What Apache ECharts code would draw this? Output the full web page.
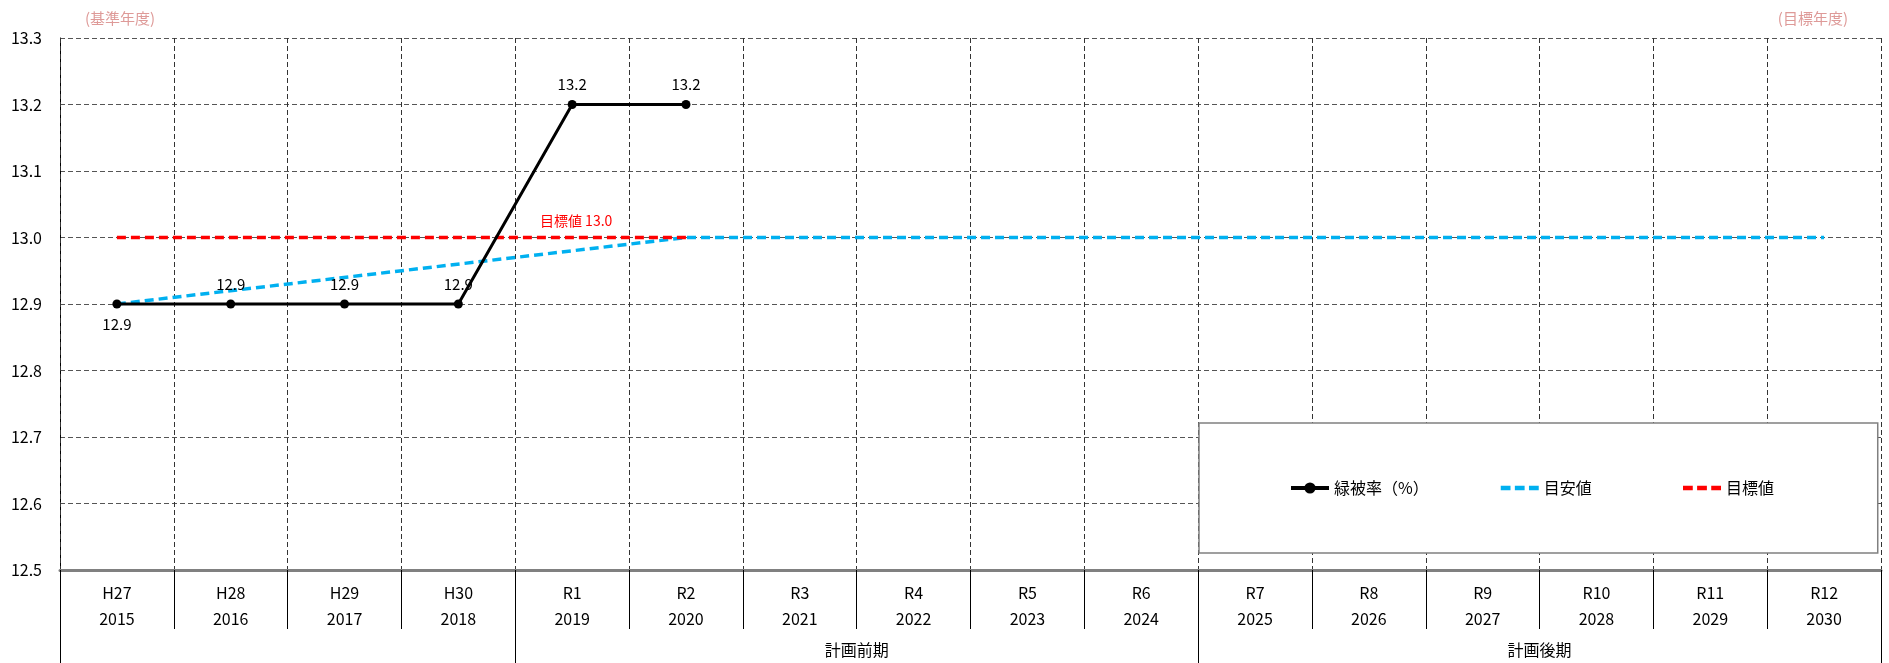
<!DOCTYPE html>
<html>
<head>
<meta charset="utf-8">
<script src="https://cdn.jsdelivr.net/npm/echarts@6/dist/echarts.min.js"></script>
<style>
html,body{margin:0;padding:0;background:#fff;}
#chart{width:1889px;height:663px;}
</style>
</head>
<body>
<div id="chart"></div>
<script>
// ---- data ----
const eraLabels = ['H27','H28','H29','H30','R1','R2','R3','R4','R5','R6','R7','R8','R9','R10','R11','R12'];
const yearLabels = ['2015','2016','2017','2018','2019','2020','2021','2022','2023','2024','2025','2026','2027','2028','2029','2030'];
const greenRate = [12.9,12.9,12.9,12.9,13.2,13.2,null,null,null,null,null,null,null,null,null,null];
const guideValue = [12.9,null,null,null,null,13.0,13.0,13.0,13.0,13.0,13.0,13.0,13.0,13.0,13.0,13.0];
const targetValue = [13.0,13.0,13.0,13.0,13.0,13.0,null,null,null,null,null,null,null,null,null,null];
const targetLabelIndex = 4;
const seriesNames = ['緑被率（%）','目安値','目標値'];
const periodNames = ['','計画前期','計画後期'];
const periodLengths = [4,6,6];
const yMin = 12.5, yMax = 13.3, yStep = 0.1;
const cornerLabels = ['(基準年度)','(目標年度)'];

// ---- derived ----
const boundaries = [0];
const centers = [];
periodLengths.forEach(function(n){
  const s = boundaries[boundaries.length-1];
  centers.push(s + n/2);
  boundaries.push(s + n);
});
const FONT = "'Noto Sans CJK JP', 'Noto Sans', sans-serif";
const DASH_ICON = 'path://M0,0h9v4H0z M13,0h9v4H13z M26,0h9v4H26z';
const legendText = {fontSize: 16, color: '#000', fontFamily: FONT};

const chart = echarts.init(document.getElementById('chart'));
chart.setOption({
  animation: false,
  backgroundColor: '#fff',
  textStyle: {fontFamily: FONT},
  title: [
    {text: cornerLabels[0], left: 80, top: 6, textStyle: {fontSize: 15, fontWeight: 'normal', color: '#DE9A98', fontFamily: FONT}},
    {text: cornerLabels[1], right: 36, top: 6, textStyle: {fontSize: 15, fontWeight: 'normal', color: '#DE9A98', fontFamily: FONT}}
  ],
  grid: {left: 60, right: 8, top: 38, bottom: 93, containLabel: false},
  legend: [
    {
      data: [
        {name: seriesNames[0], lineStyle: {width: 4}},
        {name: seriesNames[1], icon: DASH_ICON}
      ],
      left: 1199, top: 423,
      padding: [57, 286, 57, 90],
      itemGap: 72,
      itemWidth: 38, itemHeight: 14,
      backgroundColor: '#fff',
      borderColor: '#808080', borderWidth: 1.5,
      textStyle: legendText,
      z: 10
    },
    {
      data: [{name: seriesNames[2], icon: DASH_ICON}],
      left: 1683, top: 480,
      padding: 0,
      itemWidth: 38, itemHeight: 14,
      textStyle: legendText,
      z: 11
    }
  ],
  xAxis: [
    {
      type: 'category',
      data: eraLabels,
      boundaryGap: true,
      axisLine: {show: true, lineStyle: {color: '#808080', width: 3}},
      axisTick: {show: true, interval: 0, length: 59, lineStyle: {color: '#000', width: 1}},
      axisLabel: {
        interval: 0, margin: 10, fontSize: 16, lineHeight: 26, color: '#000',
        formatter: function(v, i){ return v + '\n' + yearLabels[i]; }
      },
      splitLine: {show: true, interval: 0, lineStyle: {color: '#333', width: 1, type: [5,3]}},
      z: 3
    },
    {
      type: 'value',
      min: 0, max: eraLabels.length,
      position: 'bottom',
      axisLine: {show: false},
      splitLine: {show: false},
      axisTick: {show: true, customValues: boundaries, length: 93, lineStyle: {color: '#000', width: 1}},
      axisLabel: {
        show: true, customValues: centers, margin: 72, fontSize: 16, color: '#000',
        formatter: function(v){ const k = centers.indexOf(v); return k >= 0 ? periodNames[k] : ''; }
      }
    }
  ],
  yAxis: {
    type: 'value',
    min: yMin, max: yMax, interval: yStep,
    axisLine: {show: true, lineStyle: {color: '#000', width: 1}},
    axisTick: {show: false},
    axisLabel: {margin: 18, fontSize: 16, color: '#000', formatter: function(v){ return v.toFixed(1); }},
    splitLine: {show: true, lineStyle: {color: '#555', width: 1, type: [5,3]}}
  },
  series: [
    {
      name: seriesNames[1], type: 'line', data: guideValue, connectNulls: true,
      symbol: 'none', itemStyle: {color: '#00B0F0'},
      lineStyle: {color: '#00B0F0', width: 3.5, type: [9,5]}, z: 3
    },
    {
      name: seriesNames[2], type: 'line', data: targetValue.map(function(v, i){
        return i === targetLabelIndex ? {value: v, label: {show: true}} : v;
      }),
      symbol: 'circle', symbolSize: 0, showSymbol: true,
      itemStyle: {color: '#FF0000'},
      lineStyle: {color: '#FF0000', width: 3.5, type: [9,5]},
      label: {show: false, position: 'top', distance: 10, offset: [4, 0], color: '#FF0000', fontSize: 14,
        formatter: function(p){ return seriesNames[2] + ' ' + Number(p.value).toFixed(1); }},
      z: 4
    },
    {
      name: seriesNames[0], type: 'line', data: greenRate.map(function(v, i){
        return i === 0 ? {value: v, label: {position: 'bottom'}} : v;
      }),
      symbol: 'circle', symbolSize: 9,
      itemStyle: {color: '#000'},
      lineStyle: {color: '#000', width: 3},
      label: {show: true, position: 'top', distance: 8, color: '#000', fontSize: 15,
        formatter: function(p){ return Number(p.value).toFixed(1); }},
      z: 5
    }
  ]
});
</script>
</body>
</html>
